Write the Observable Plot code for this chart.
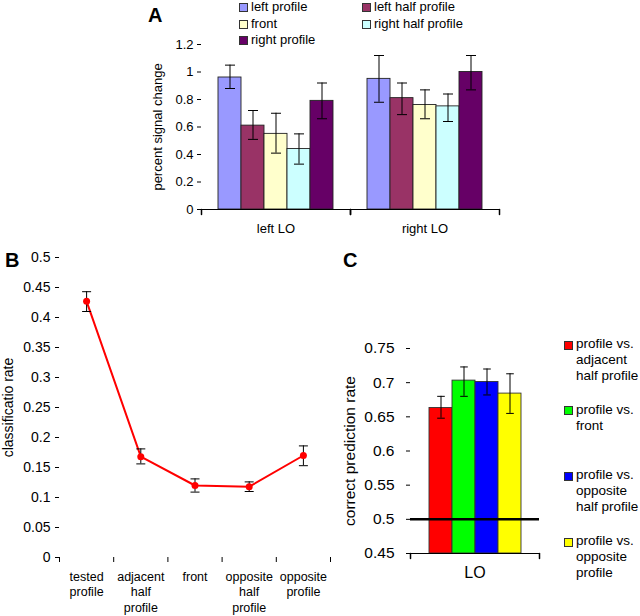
<!DOCTYPE html>
<html>
<head>
<meta charset="utf-8">
<script src="https://cdn.jsdelivr.net/npm/d3@7"></script>
<script src="https://cdn.jsdelivr.net/npm/@observablehq/plot@0.6"></script>
<style>
  html, body { margin: 0; padding: 0; background: #fff; }
  body { font-family: "Liberation Sans", Arial, sans-serif; color: #000; }
  #root { position: relative; width: 640px; height: 616px; overflow: hidden; background: #fff; }
  .abs { position: absolute; }
  .letter { position: absolute; font-weight: bold; font-size: 20px; line-height: 20px; }
  .sw { width: 7px; height: 7px; border: 1px solid #333; flex: none; }
  #legendA { display: grid; grid-template-columns: 123px 130px; grid-auto-rows: 16.7px; font-size: 13px; }
  #legendA .item { display: flex; align-items: center; gap: 3px; white-space: nowrap; line-height: 16.7px; }
  #legendC { font-size: 13.5px; }
  #legendC .item { display: flex; align-items: flex-start; gap: 3px; height: 65.7px; }
  #legendC .item .sw { margin-top: 3.5px; }
  #legendC .item .txt { white-space: pre-line; line-height: 16px; margin-top: -1px; }
</style>
</head>
<body>
<div id="root"></div>
<script>
// ---------- Panel A data ----------
const groupsA = ["left LO", "right LO"];
const conditionsA = ["left profile", "left half profile", "front", "right half profile", "right profile"];
const colorsA = ["#9999ff", "#993366", "#ffffcc", "#ccffff", "#660066"];
const meanLeftLO = [0.96, 0.61, 0.55, 0.44, 0.79];
const errLowLeftLO = [0.88, 0.51, 0.41, 0.33, 0.66];
const errHighLeftLO = [1.05, 0.72, 0.70, 0.55, 0.92];
const meanRightLO = [0.95, 0.81, 0.76, 0.75, 1.00];
const errLowRightLO = [0.78, 0.69, 0.66, 0.64, 0.87];
const errHighRightLO = [1.12, 0.92, 0.87, 0.84, 1.12];
const yDomainA = [0, 1.2];
const yTicksA = [0, 0.2, 0.4, 0.6, 0.8, 1, 1.2];
const yLabelA = "percent signal change";

// ---------- Panel B data ----------
const categoriesB = ["tested\nprofile", "adjacent\nhalf\nprofile", "front", "opposite\nhalf\nprofile", "opposite\nprofile"];
const rateB = [0.427, 0.168, 0.120, 0.118, 0.170];
const rateLowB = [0.410, 0.156, 0.109, 0.110, 0.153];
const rateHighB = [0.443, 0.181, 0.131, 0.126, 0.186];
const yDomainB = [0, 0.5];
const yTicksB = [0, 0.05, 0.1, 0.15, 0.2, 0.25, 0.3, 0.35, 0.4, 0.45, 0.5];
const yLabelB = "classificatio rate";

// ---------- Panel C data ----------
const comparisonsC = ["profile vs.\nadjacent\nhalf profile", "profile vs.\nfront", "profile vs.\nopposite\nhalf profile", "profile vs.\nopposite\nprofile"];
const colorsC = ["#ff0000", "#00ff00", "#0000ff", "#ffff00"];
const accC = [0.663, 0.703, 0.701, 0.684];
const accLowC = [0.648, 0.680, 0.682, 0.655];
const accHighC = [0.680, 0.723, 0.720, 0.713];
const chanceC = [0.5];
const yDomainC = [0.45, 0.75];
const yTicksC = [0.45, 0.5, 0.55, 0.6, 0.65, 0.7, 0.75];
const yLabelC = "correct prediction rate";
const xLabelC = "LO";

const panelLetters = ["A", "B", "C"];

// ---------- helpers ----------
const FONT = '"Liberation Sans", Arial, sans-serif';
const fmt = d => String(+(+d).toFixed(2));
const capSymbol = { draw(ctx, size) { const r = Math.sqrt(size / Math.PI); ctx.moveTo(-r, 0); ctx.lineTo(r, 0); } };
const tickShape = { draw(ctx, l) { ctx.moveTo(0, 0); ctx.lineTo(0, -l); } };

const root = document.getElementById("root");
function place(node, left, top) {
  const div = document.createElement("div");
  div.className = "abs";
  div.style.left = left + "px";
  div.style.top = top + "px";
  div.appendChild(node);
  root.appendChild(div);
  return div;
}

// ---------- Panel A ----------
const meansA = [meanLeftLO, meanRightLO];
const lowsA = [errLowLeftLO, errLowRightLO];
const highsA = [errHighLeftLO, errHighRightLO];
const tableA = groupsA.flatMap((g, gi) => conditionsA.map((c, ci) => ({
  group: g, condition: c, mean: meansA[gi][ci], lo: lowsA[gi][ci], hi: highsA[gi][ci]
})));

const plotA = Plot.plot({
  width: 520, height: 245,
  marginLeft: 201, marginRight: 21, marginTop: 44, marginBottom: 36,
  style: { fontFamily: FONT, fontSize: "13px", color: "#000", background: "transparent", overflow: "visible" },
  fx: { domain: groupsA, padding: 0 },
  x: { domain: conditionsA, paddingInner: 0, paddingOuter: 0.71, axis: null },
  y: { domain: yDomainA },
  color: { domain: conditionsA, range: colorsA },
  marks: [
    Plot.axisY({ ticks: yTicksA, tickSize: 4, tickPadding: 4, tickFormat: fmt, line: true,
      label: yLabelA, labelAnchor: "center", labelArrow: "none", labelOffset: 49, fontSize: 13 }),
    Plot.axisFx({ anchor: "bottom", tickSize: 0, tickPadding: 14, label: null, fontSize: 13 }),
    Plot.barY(tableA, { fx: "group", x: "condition", y: "mean", fill: "condition", stroke: "#222", strokeWidth: 0.9 }),
    Plot.ruleX(tableA, { fx: "group", x: "condition", y1: "lo", y2: "hi", stroke: "#000", strokeWidth: 1 }),
    Plot.dot(tableA, { fx: "group", x: "condition", y: "lo", symbol: capSymbol, r: 5, stroke: "#000", fill: "none", strokeWidth: 1 }),
    Plot.dot(tableA, { fx: "group", x: "condition", y: "hi", symbol: capSymbol, r: 5, stroke: "#000", fill: "none", strokeWidth: 1 }),
    Plot.ruleY([yDomainA[0]], { stroke: "#000" }),
    Plot.vector([0], { frameAnchor: "bottom-left", length: 5, rotate: 180, anchor: "start", shape: tickShape, stroke: "#000" }),
    Plot.vector([0], { frameAnchor: "bottom-right", length: 5, rotate: 180, anchor: "start", shape: tickShape, stroke: "#000" })
  ]
});
place(plotA, 0, 0);

// Legend A
const legendA = document.createElement("div");
legendA.id = "legendA";
conditionsA.forEach((c, i) => {
  const it = document.createElement("div");
  it.className = "item";
  const sw = document.createElement("span");
  sw.className = "sw";
  sw.style.background = colorsA[i];
  const tx = document.createElement("span");
  tx.textContent = c;
  it.appendChild(sw); it.appendChild(tx);
  legendA.appendChild(it);
});
place(legendA, 239, -1);

// ---------- Panel B ----------
const tableB = categoriesB.map((c, i) => ({ category: c, pos: i + 0.5, rate: rateB[i], lo: rateLowB[i], hi: rateHighB[i] }));

const plotB = Plot.plot({
  width: 340, height: 370,
  marginLeft: 59, marginRight: 10, marginTop: 7, marginBottom: 63,
  style: { fontFamily: FONT, fontSize: "14px", color: "#000", background: "transparent", overflow: "visible" },
  x: { domain: [0, categoriesB.length], axis: null },
  y: { domain: yDomainB },
  marks: [
    Plot.axisY({ ticks: yTicksB, tickSize: 4, tickPadding: 5, tickFormat: fmt, line: true,
      label: yLabelB, labelAnchor: "center", labelArrow: "none", fontSize: 14 }),
    Plot.axisX({ ticks: d3.range(categoriesB.length + 1), tickSize: 5, tickFormat: () => "", line: true, label: null }),
    Plot.axisX({ ticks: tableB.map(d => d.pos), tickSize: 0, tickPadding: 12, lineHeight: 1.25, fontSize: 12.5, label: null,
      tickFormat: p => tableB.find(d => d.pos === p).category }),
    Plot.line(tableB, { x: "pos", y: "rate", stroke: "#ff0000", strokeWidth: 2 }),
    Plot.ruleX(tableB, { x: "pos", y1: "lo", y2: "hi", stroke: "#000", strokeWidth: 1 }),
    Plot.dot(tableB, { x: "pos", y: "lo", symbol: capSymbol, r: 4.5, stroke: "#000", fill: "none", strokeWidth: 1 }),
    Plot.dot(tableB, { x: "pos", y: "hi", symbol: capSymbol, r: 4.5, stroke: "#000", fill: "none", strokeWidth: 1 }),
    Plot.dot(tableB, { x: "pos", y: "rate", fill: "#ff0000", r: 3.5 })
  ]
});
place(plotB, 0, 250);

// ---------- Panel C ----------
const tableC = comparisonsC.map((c, i) => ({ comparison: c, acc: accC[i], lo: accLowC[i], hi: accHighC[i] }));

const plotC = Plot.plot({
  width: 210, height: 320,
  marginLeft: 70, marginRight: 11, marginTop: 78, marginBottom: 37,
  style: { fontFamily: FONT, fontSize: "14px", color: "#000", background: "transparent", overflow: "visible" },
  x: { domain: comparisonsC, paddingInner: 0, paddingOuter: 0.72, axis: null },
  y: { domain: yDomainC },
  color: { domain: comparisonsC, range: colorsC },
  marks: [
    Plot.axisY({ ticks: yTicksC, tickSize: 4, tickPadding: 12, tickFormat: fmt, line: true,
      label: yLabelC, labelAnchor: "center", labelArrow: "none", fontSize: 15.5 }),
    Plot.barY(tableC, { x: "comparison", y1: yDomainC[0], y2: "acc", fill: "comparison", stroke: "#333", strokeWidth: 0.9 }),
    Plot.ruleX(tableC, { x: "comparison", y1: "lo", y2: "hi", stroke: "#000", strokeWidth: 1 }),
    Plot.dot(tableC, { x: "comparison", y: "lo", symbol: capSymbol, r: 3.8, stroke: "#000", fill: "none", strokeWidth: 1 }),
    Plot.dot(tableC, { x: "comparison", y: "hi", symbol: capSymbol, r: 3.8, stroke: "#000", fill: "none", strokeWidth: 1 }),
    Plot.ruleY(chanceC, { stroke: "#000", strokeWidth: 2.5 }),
    Plot.ruleY([yDomainC[0]], { stroke: "#000" }),
    Plot.vector([0], { frameAnchor: "bottom-left", length: 5, rotate: 180, anchor: "start", shape: tickShape, stroke: "#000" }),
    Plot.vector([0], { frameAnchor: "bottom-right", length: 5, rotate: 180, anchor: "start", shape: tickShape, stroke: "#000" }),
    Plot.text([xLabelC], { frameAnchor: "bottom", lineAnchor: "top", dy: 13, fontSize: 16, text: d => d })
  ]
});
place(plotC, 340, 270);

// Legend C
const legendC = document.createElement("div");
legendC.id = "legendC";
comparisonsC.forEach((c, i) => {
  const it = document.createElement("div");
  it.className = "item";
  const sw = document.createElement("span");
  sw.className = "sw";
  sw.style.background = colorsC[i];
  const tx = document.createElement("span");
  tx.className = "txt";
  tx.textContent = c;
  it.appendChild(sw); it.appendChild(tx);
  legendC.appendChild(it);
});
place(legendC, 564, 337);

// Panel letters
const letterPos = [[148, 5], [5, 250], [343, 250]];
panelLetters.forEach((L, i) => {
  const d = document.createElement("div");
  d.className = "letter";
  d.textContent = L;
  d.style.left = letterPos[i][0] + "px";
  d.style.top = letterPos[i][1] + "px";
  root.appendChild(d);
});
</script>
</body>
</html>
